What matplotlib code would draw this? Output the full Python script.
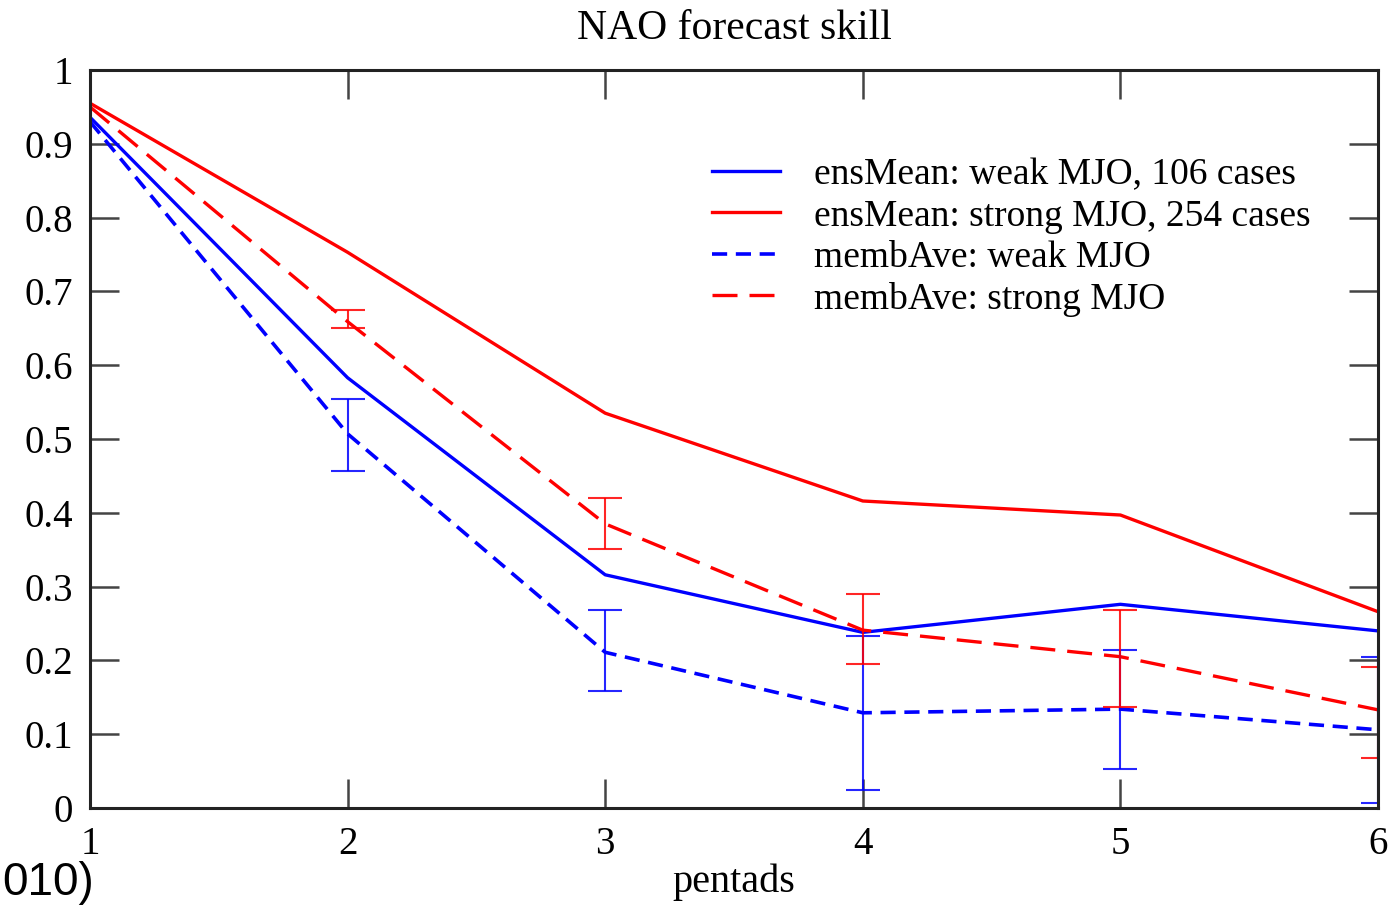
import matplotlib
matplotlib.use("Agg")
import matplotlib.pyplot as plt
from matplotlib.transforms import IdentityTransform
import numpy as np

pentads = [1, 2, 3, 4, 5, 6]
ens_weak = [0.936, 0.583, 0.316, 0.238, 0.276, 0.240]
ens_strong = [0.955, 0.753, 0.535, 0.416, 0.397, 0.266]
memb_weak = [0.930, 0.507, 0.211, 0.129, 0.134, 0.106]
memb_strong = [0.950, 0.659, 0.385, 0.241, 0.205, 0.133]

err_x = [2, 3, 4, 5, 6]
weak_low = [0.457, 0.159, 0.024, 0.053, 0.007]
weak_high = [0.554, 0.268, 0.233, 0.214, 0.205]
strong_low = [0.650, 0.351, 0.195, 0.137, 0.068]
strong_high = [0.675, 0.420, 0.290, 0.268, 0.191]

labels = ["ensMean: weak MJO, 106 cases", "ensMean: strong MJO, 254 cases",
          "membAve: weak MJO", "membAve: strong MJO"]
ytick_labels = ["0", "0.1", "0.2", "0.3", "0.4", "0.5", "0.6", "0.7", "0.8", "0.9", "1"]

plt.rcParams['font.family'] = ['Liberation Serif', 'DejaVu Serif']

fig = plt.figure(figsize=(13.94, 9.06), dpi=100)
ax = fig.add_axes([90/1394, 1 - 808/906, (1378-90)/1394, (808-70)/906])

BLUE = "#0000ff"
RED = "#ff0000"

ax.plot(pentads, ens_weak, color=BLUE, lw=2.4, label=labels[0])
ax.plot(pentads, ens_strong, color=RED, lw=2.4, label=labels[1])
ax.plot(pentads, memb_weak, color=BLUE, lw=2.6, dashes=(4.2, 2.4), label=labels[2])
ax.plot(pentads, memb_strong, color=RED, lw=2.4, dashes=(7.5, 3.6), label=labels[3])

def draw_err(xs, lo, hi, color):
    xs = np.asarray(xs, float); lo = np.asarray(lo); hi = np.asarray(hi)
    mid = (lo + hi) / 2
    ax.errorbar(xs, mid, yerr=[mid - lo, hi - mid], fmt='none', ecolor=color,
                elinewidth=1.5, capsize=12.5, capthick=1.5, alpha=0.85)

draw_err(err_x, weak_low, weak_high, BLUE)
draw_err(err_x, strong_low, strong_high, RED)

ax.set_xlim(1, 6)
ax.set_ylim(0, 1)
ax.set_xticks(pentads)
ax.set_xticklabels([str(p) for p in pentads])
ax.set_yticks([i / 10 for i in range(11)])
ax.set_yticklabels(ytick_labels)
ax.tick_params(axis='both', direction='in', length=21, width=1.8, color='#444444',
               top=True, right=True, labelsize=28)
ax.tick_params(axis='x', pad=13)
ax.tick_params(axis='y', pad=12)
for s in ax.spines.values():
    s.set_linewidth(2.2)
    s.set_color('#222222')

ax.set_title("NAO forecast skill", fontsize=30, pad=22)
ax.set_xlabel("pentads", fontsize=29, labelpad=0)

leg = ax.legend(loc='upper left', bbox_to_anchor=(0.483, 0.881), frameon=False,
                fontsize=27, handlelength=1.8, handletextpad=0.93, labelspacing=0.18,
                borderaxespad=0, borderpad=0)

t = fig.text(0, 0, "010)", fontsize=33, family=['Liberation Sans', 'DejaVu Sans'],
             ha='left', va='baseline')
t.set_transform(IdentityTransform())
t.set_position((2, 906 - 895))

fig.savefig("out.png", dpi=100)
